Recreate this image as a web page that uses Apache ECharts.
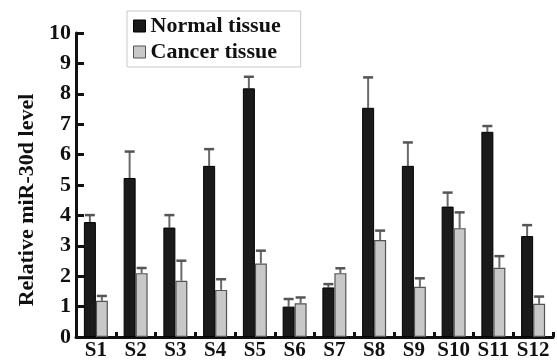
<!DOCTYPE html>
<html><head><meta charset="utf-8">
<script src="https://cdn.jsdelivr.net/npm/echarts@6/dist/echarts.min.js"></script>
<style>html,body{margin:0;padding:0;background:#fff}#c{width:557px;height:361px}</style>
</head><body><div id="c"></div>
<script>
var categories = ['S1','S2','S3','S4','S5','S6','S7','S8','S9','S10','S11','S12'];
var normal     = [3.78, 5.23, 3.60, 5.63, 8.18, 1.00, 1.63, 7.54, 5.63, 4.29, 6.75, 3.32];
var normalErr  = [0.23, 0.87, 0.41, 0.55, 0.38, 0.25, 0.11, 1.00, 0.77, 0.46, 0.19, 0.36];
var cancer     = [1.19, 2.10, 1.85, 1.55, 2.42, 1.11, 2.10, 3.19, 1.65, 3.58, 2.28, 1.09];
var cancerErr  = [0.16, 0.17, 0.66, 0.35, 0.42, 0.19, 0.16, 0.31, 0.28, 0.52, 0.38, 0.24];
var yTicks = [0,1,2,3,4,5,6,7,8,9,10];

var FONT = '"Liberation Serif", "Times New Roman", serif';

function errSeries(vals, errs, off) {
  return {
    type: 'custom',
    silent: true,
    z: 1,
    data: vals.map(function (v, i) { return [i, v, v + errs[i]]; }),
    encode: { x: 0, y: [1, 2] },
    renderItem: function (params, api) {
      var b = api.coord([api.value(0), api.value(1)]);
      var t = api.coord([api.value(0), api.value(2)]);
      var x = b[0] + off;
      var st = { stroke: '#6a6a6a', lineWidth: 2 };
      return {
        type: 'group',
        children: [
          { type: 'line', shape: { x1: x, y1: b[1], x2: x, y2: t[1] }, style: st },
          { type: 'line', shape: { x1: x - 5, y1: t[1], x2: x + 5, y2: t[1] }, style: { stroke: '#555', lineWidth: 2.5 } }
        ]
      };
    }
  };
}

var chart = echarts.init(document.getElementById('c'));
chart.setOption({
  animation: false,
  backgroundColor: '#fff',
  textStyle: { fontFamily: FONT },
  grid: { left: 76, right: 4, top: 33, bottom: 24, containLabel: false },
  legend: {
    orient: 'vertical',
    left: 127, top: 11,
    padding: [4, 20, 4, 6],
    itemGap: 4,
    itemWidth: 12, itemHeight: 12,
    borderColor: '#c8c8c8', borderWidth: 1,
    textStyle: { fontFamily: FONT, fontWeight: 'bold', fontSize: 22, color: '#111' },
    data: [
      { name: 'Normal tissue', icon: 'rect', itemStyle: { color: '#1a1a1a', borderColor: '#000', borderWidth: 1 } },
      { name: 'Cancer tissue', icon: 'rect', itemStyle: { color: '#c8c8c8', borderColor: '#555', borderWidth: 1 } }
    ]
  },
  xAxis: {
    type: 'category',
    data: categories,
    axisLine: { lineStyle: { color: '#111', width: 3 } },
    axisTick: { show: true, inside: true, length: 5, lineStyle: { color: '#111', width: 3 } },
    axisLabel: { fontFamily: FONT, fontWeight: 'bold', fontSize: 21, color: '#111', margin: 3, interval: 0 }
  },
  yAxis: {
    type: 'value',
    min: 0, max: 10, interval: 1,
    name: 'Relative miR-30d level',
    nameLocation: 'middle',
    nameGap: 38,
    nameTextStyle: { fontFamily: FONT, fontWeight: 'bold', fontSize: 22, color: '#111', padding: [0, 30, 0, 0] },
    axisLine: { show: true, lineStyle: { color: '#111', width: 3 } },
    axisTick: { show: true, inside: true, length: 8, lineStyle: { color: '#111', width: 3 } },
    splitLine: { show: false },
    axisLabel: {
      fontFamily: FONT, fontWeight: 'bold', fontSize: 22, color: '#111', margin: 5,
      formatter: function (v) { return yTicks.indexOf(v) >= 0 ? String(v) : ''; }
    }
  },
  series: [
    { name: 'Normal tissue', type: 'bar', data: normal, barWidth: 12, barGap: '0%', z: 2,
      itemStyle: { color: '#1a1a1a', borderColor: '#000', borderWidth: 1 } },
    { name: 'Cancer tissue', type: 'bar', data: cancer, barWidth: 12, barGap: '0%', z: 2,
      itemStyle: { color: '#c8c8c8', borderColor: '#555', borderWidth: 1.2 } },
    errSeries(normal, normalErr, -6),
    errSeries(cancer, cancerErr, 6)
  ]
});
</script></body></html>
